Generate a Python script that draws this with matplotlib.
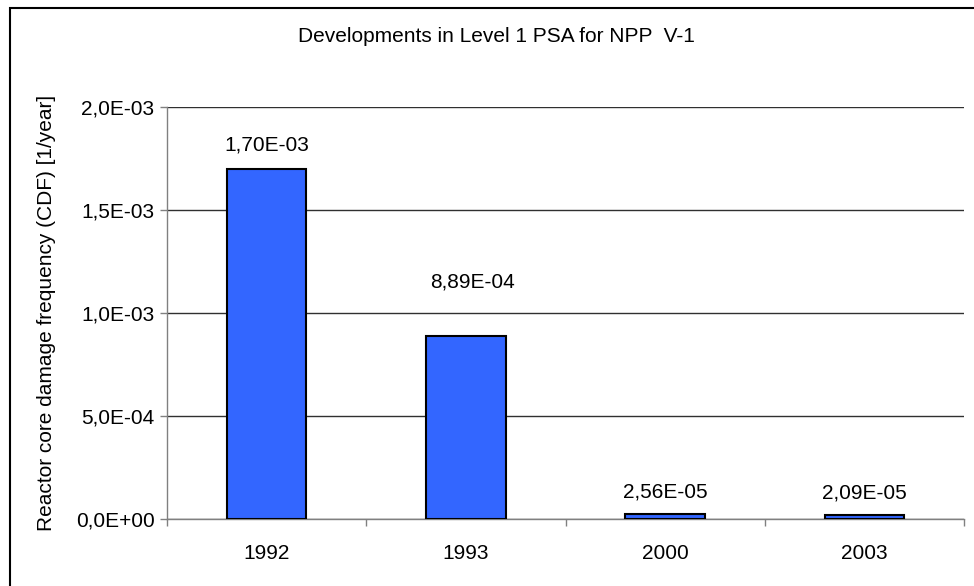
import matplotlib
matplotlib.use("Agg")
import matplotlib.pyplot as plt
import matplotlib.patches as mpatches

plt.rcParams["font.family"] = ["Liberation Sans", "DejaVu Sans"]

# data
years = ["1992", "1993", "2000", "2003"]
cdf = [1.70e-03, 8.89e-04, 2.56e-05, 2.09e-05]
cdf_labels = ["1,70E-03", "8,89E-04", "2,56E-05", "2,09E-05"]
y_ticks = [0.0, 5.0e-04, 1.0e-03, 1.5e-03, 2.0e-03]
y_tick_labels = ["0,0E+00", "5,0E-04", "1,0E-03", "1,5E-03", "2,0E-03"]

title = "Developments in Level 1 PSA for NPP  V-1"
ylabel = "Reactor core damage frequency (CDF) [1/year]"

BAR = "#3366ff"
AXIS = "#808080"

fig = plt.figure(figsize=(9.74, 5.86), dpi=100)
ax = fig.add_axes([167 / 974, 1 - 519 / 586, (964 - 167) / 974, (519 - 107) / 586])

x = list(range(len(years)))
ax.bar(x, cdf, width=0.40, color=BAR, edgecolor="black", linewidth=1.5, zorder=3)

ax.set_xlim(-0.5, len(years) - 0.5)
ax.set_ylim(0, 2.0e-03)
ax.set_yticks(y_ticks)
ax.set_yticklabels(y_tick_labels, fontsize=15)
ax.set_xticks(x)
ax.set_xticklabels(years, fontsize=15)
ax.tick_params(axis="x", length=0, pad=18)
ax.tick_params(axis="y", length=5, width=1, color=AXIS, pad=4, direction="out")

# category boundary ticks
ax.set_xticks([i - 0.5 for i in range(len(years) + 1)], minor=True)
ax.tick_params(axis="x", which="minor", length=5, width=1, color=AXIS, direction="out")

ax.yaxis.grid(True, color="#303030", linewidth=1.0, zorder=0)
for s in ["top", "right"]:
    ax.spines[s].set_visible(False)
for s in ["left", "bottom"]:
    ax.spines[s].set_color(AXIS)
    ax.spines[s].set_linewidth(1.0)

# value labels (offsets in points, as Excel placed them)
offsets = [(0, 10), (5, 32), (0, 9), (0, 9)]
for xi, v, lab, off in zip(x, cdf, cdf_labels, offsets):
    ax.annotate(lab, (xi, v), xytext=off, textcoords="offset points",
                ha="center", va="bottom", fontsize=15)

fig.text(496 / 974, 1 - 36 / 586, title, ha="center", va="center", fontsize=15)
fig.text(47 / 974, 1 - 313 / 586, ylabel, ha="center", va="center",
         rotation=90, fontsize=15)

# outer chart border (right and bottom edges fall outside the image)
border = mpatches.Rectangle((9.5 / 974, -0.05), 1.2, 1 - 7.5 / 586 + 0.05,
                            transform=fig.transFigure, fill=False,
                            edgecolor="black", linewidth=1.5, clip_on=False)
fig.patches.append(border)

fig.savefig("out.png", dpi=100, facecolor="white")
